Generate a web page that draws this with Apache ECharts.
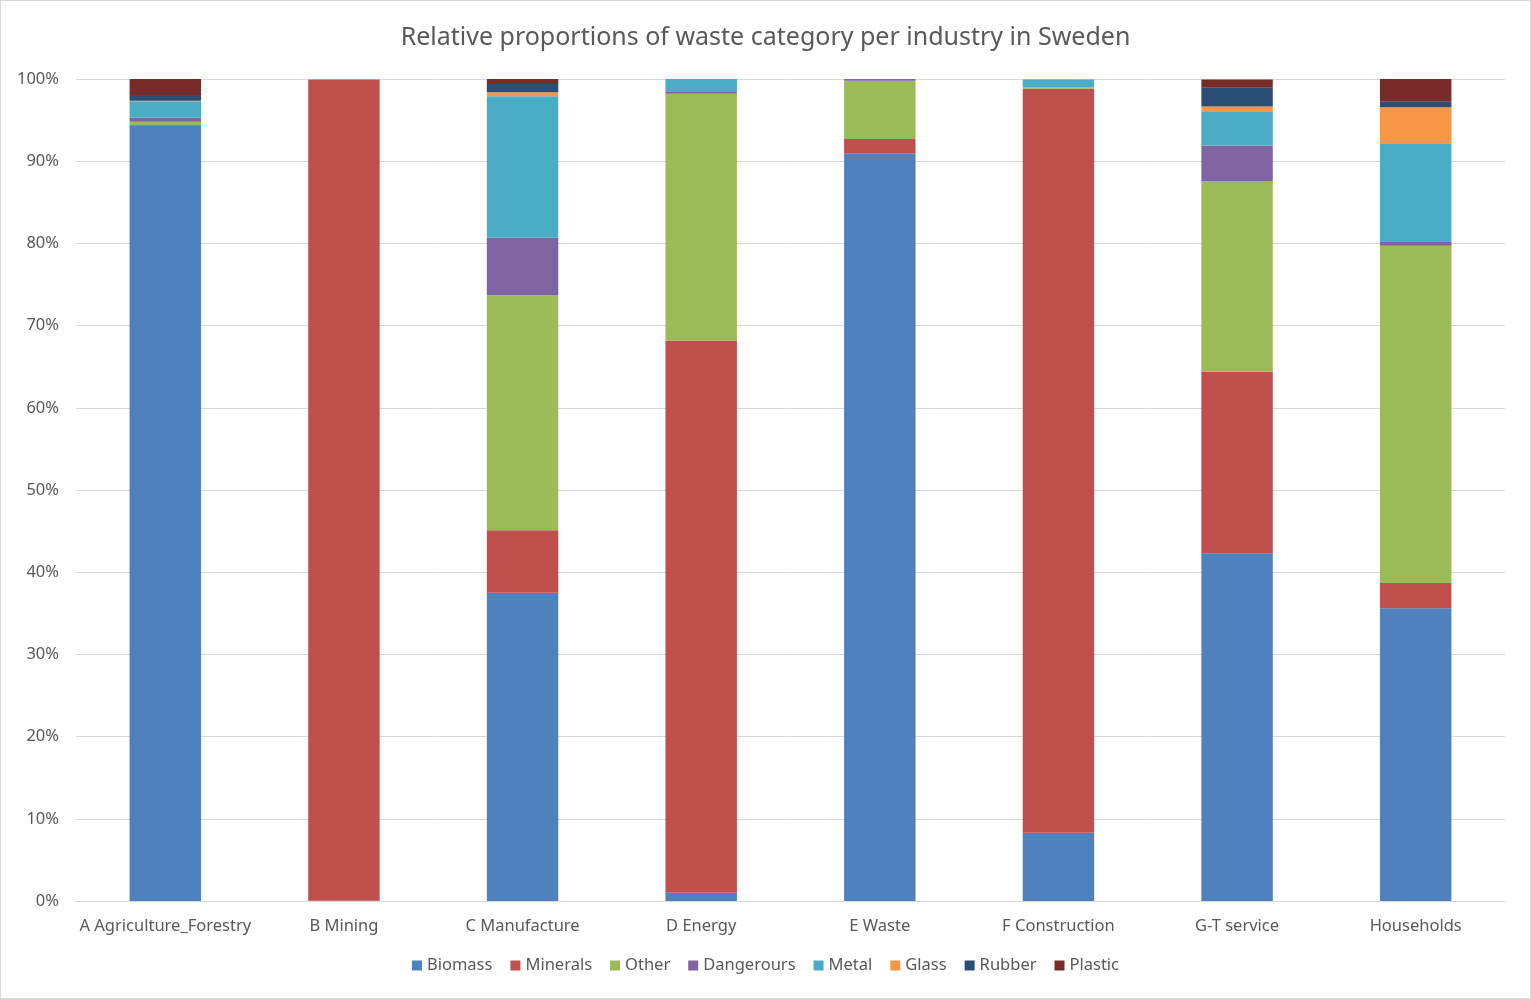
<!DOCTYPE html>
<html>
<head>
<meta charset="utf-8">
<script src="https://cdn.jsdelivr.net/npm/echarts@6/dist/echarts.min.js"></script>
<style>
html,body{margin:0;padding:0;background:#fff;}
#c{position:absolute;left:0;top:0;width:1529px;height:997px;border:1px solid #d9d9d9;}
</style>
</head>
<body>
<div id="c"></div>
<script>
const categories = ['A Agriculture_Forestry','B Mining','C Manufacture','D Energy','E Waste','F Construction','G-T service','Households'];
const biomass    = [94.3, 0.02, 37.5, 1.0, 90.9, 8.3, 42.3, 35.6];
const minerals   = [0.1, 99.88, 7.6, 67.2, 1.8, 90.5, 22.1, 3.1];
const other      = [0.4, 0.05, 28.6, 30.0, 7.1, 0.2, 23.2, 41.0];
const dangerous  = [0.5, 0.0, 7.0, 0.3, 0.2, 0.0, 4.3, 0.57];
const metal      = [2.0, 0.05, 17.2, 1.5, 0.0, 0.9, 4.1, 11.9];
const glass      = [0.05, 0.0, 0.5, 0.0, 0.0, 0.1, 0.65, 4.4];
const rubber     = [0.7, 0.0, 1.0, 0.0, 0.0, 0.0, 2.3, 0.73];
const plastic    = [1.95, 0.0, 0.6, 0.0, 0.0, 0.0, 1.0, 2.7];
const yTicks = [0,10,20,30,40,50,60,70,80,90,100];

const seriesDefs = [
  ['Biomass', biomass, '#4F81BD'],
  ['Minerals', minerals, '#C0504D'],
  ['Other', other, '#9BBB59'],
  ['Dangerours', dangerous, '#8064A2'],
  ['Metal', metal, '#4BACC6'],
  ['Glass', glass, '#F79646'],
  ['Rubber', rubber, '#2C4D75'],
  ['Plastic', plastic, '#772C2A']
];
const font = 'Noto Sans, Open Sans, sans-serif';
const chart = echarts.init(document.getElementById('c'));
chart.setOption({
  animation:false,
  title:{text:'Relative proportions of waste category per industry in Sweden',left:'center',top:19,
    textStyle:{fontSize:25,fontWeight:'normal',color:'#595959',fontFamily:font}},
  legend:{bottom:19,left:'center',itemWidth:10,itemHeight:10,itemGap:18,icon:'rect',
    textStyle:{fontSize:16.5,color:'#595959',fontFamily:font},
    data:seriesDefs.map(s=>s[0])},
  grid:{left:75,right:25,top:78,bottom:97},
  xAxis:{type:'category',data:categories,
    axisLine:{lineStyle:{color:'#d9d9d9'}},axisTick:{show:false},
    axisLabel:{fontSize:16.5,color:'#595959',fontFamily:font,margin:17,interval:0}},
  yAxis:{type:'value',min:yTicks[0],max:yTicks[yTicks.length-1],interval:10,
    axisLabel:{formatter:'{value}%',fontSize:16.5,color:'#595959',fontFamily:font,margin:17},
    splitLine:{lineStyle:{color:'#d9d9d9'}},axisLine:{show:false},axisTick:{show:false}},
  series:seriesDefs.map(s=>({name:s[0],type:'bar',stack:'total',data:s[1],barCategoryGap:'60%',
    itemStyle:{color:s[2]}}))
});
</script>
</body>
</html>
